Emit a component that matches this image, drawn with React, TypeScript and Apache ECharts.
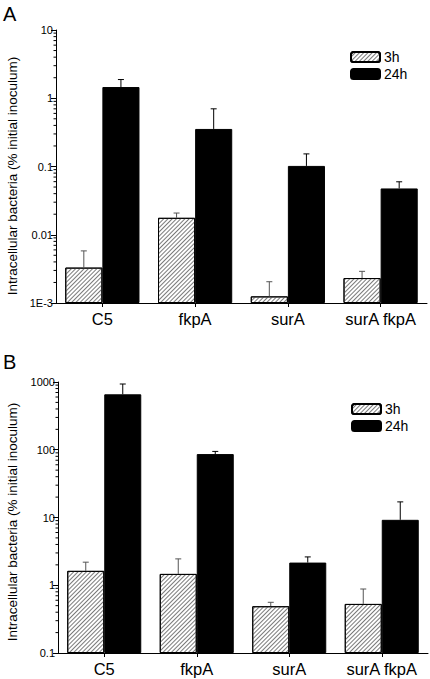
import React, { useEffect, useRef } from "react";
import * as echarts from "echarts";

const categories = ["C5", "fkpA", "surA", "surA fkpA"];
const seriesNames = ["3h", "24h"];

// Panel A
const a3h = [0.0033, 0.0177, 0.00125, 0.00232];
const a3hErr = [0.0058, 0.0208, 0.00205, 0.00291];
const a24h = [1.46, 0.355, 0.102, 0.0477];
const a24hErr = [1.88, 0.7, 0.153, 0.0597];
const aTickLabels = ["1E-3", "0.01", "0.1", "1", "10"];
const aMinExp = -3;
const aMaxExp = 1;

// Panel B
const b3h = [1.63, 1.47, 0.49, 0.53];
const b3hErr = [2.19, 2.45, 0.56, 0.88];
const b24h = [658, 86.3, 2.16, 9.24];
const b24hErr = [934, 94.5, 2.62, 17.0];
const bTickLabels = ["0.1", "1", "10", "100", "1000"];
const bMinExp = -1;
const bMaxExp = 3;

const yTitle = "Intracellular bacteria (% initial inoculum)";
const FONT = "Liberation Sans, Arial, Helvetica, sans-serif";

function minorValues(minExp: number, maxExp: number) {
  const out: number[][] = [];
  for (let e = minExp; e < maxExp; e++) {
    for (let k = 2; k <= 9; k++) out.push([0, k * Math.pow(10, e)]);
  }
  return out;
}

const hatch = {
  symbol: "rect",
  symbolSize: 1,
  color: "#7a7a7a",
  backgroundColor: "#ffffff",
  dashArrayX: [1, 0],
  dashArrayY: [1, 2],
  rotation: -Math.PI / 4,
};

function App() {
  const ref = useRef<HTMLDivElement>(null);
  useEffect(() => {
    const chart = echarts.init(ref.current!, null, { renderer: "svg" });

    const grids = [
      { left: 56, top: 30, width: 371, height: 273 },
      { left: 58, top: 382, width: 370, height: 271 },
    ];

    const yAxis = (gi: number, minExp: number, maxExp: number, labels: string[]) => ({
      type: "log",
      gridIndex: gi,
      logBase: 10,
      min: Math.pow(10, minExp),
      max: Math.pow(10, maxExp),
      startValue: Math.pow(10, minExp),
      axisLine: { show: true, lineStyle: { color: "#000", width: 1 } },
      axisTick: { show: true, inside: false, length: 5, lineStyle: { color: "#000" } },
      splitLine: { show: false },
      minorTick: { show: false },
      axisLabel: {
        color: "#000",
        fontFamily: FONT,
        fontSize: 11,
        margin: 3,
        formatter: (v: number) => labels[Math.round(Math.log10(v)) - minExp] ?? "",
      },
    });

    const xAxis = (gi: number) => ({
      type: "category",
      gridIndex: gi,
      data: categories,
      axisLine: { show: true, lineStyle: { color: "#000", width: 1 } },
      axisTick: { show: true, alignWithLabel: true, length: 4, interval: 0, lineStyle: { color: "#000" } },
      axisLabel: { color: "#000", fontFamily: FONT, fontSize: 16.5, margin: 7, interval: 0 },
    });

    const bar = (gi: number, name: string, data: number[], hatched: boolean) => ({
      type: "bar",
      name,
      xAxisIndex: gi,
      yAxisIndex: gi,
      data,
      barWidth: "40%",
      barGap: "0%",
      itemStyle: hatched
        ? { color: "#ffffff", borderColor: "#000", borderWidth: 1, decal: hatch }
        : { color: "#000", borderColor: "#000", borderWidth: 1 },
      emphasis: { disabled: true },
      z: 2,
    });

    const errSeries = (gi: number, vals: number[], errs: number[], side: number) => ({
      type: "custom",
      xAxisIndex: gi,
      yAxisIndex: gi,
      silent: true,
      z: 3,
      data: vals.map((v, i) => [i, v, errs[i]]),
      renderItem: (params: any, api: any) => {
        const band = api.size([1, 0])[0];
        const c = api.coord([api.value(0), api.value(1)]);
        const e = api.coord([api.value(0), api.value(2)]);
        const x = c[0] + side * band * 0.2;
        const color = side < 0 ? "#555" : "#000";
        return {
          type: "group",
          children: [
            { type: "line", shape: { x1: x, y1: c[1], x2: x, y2: e[1] }, style: { stroke: color, lineWidth: 1 } },
            { type: "line", shape: { x1: x - 3, y1: e[1], x2: x + 3, y2: e[1] }, style: { stroke: color, lineWidth: 1 } },
          ],
        };
      },
    });

    const minorSeries = (gi: number, minExp: number, maxExp: number) => ({
      type: "custom",
      xAxisIndex: gi,
      yAxisIndex: gi,
      silent: true,
      z: 3,
      data: minorValues(minExp, maxExp),
      renderItem: (params: any, api: any) => {
        const p = api.coord([0, api.value(1)]);
        const x0 = params.coordSys.x;
        return {
          type: "line",
          shape: { x1: x0 - 2.5, y1: p[1], x2: x0, y2: p[1] },
          style: { stroke: "#000", lineWidth: 1 },
        };
      },
    });

    const legend = (left: number, top: number) => ({
      data: seriesNames,
      orient: "vertical",
      left,
      top,
      itemWidth: 29,
      itemHeight: 10,
      itemGap: 3,
      selectedMode: false,
      textStyle: { color: "#000", fontFamily: FONT, fontSize: 14, padding: [0, 0, 0, -1] },
    });

    chart.setOption({
      animation: false,
      backgroundColor: "#ffffff",
      grid: grids,
      xAxis: [xAxis(0), xAxis(1)],
      yAxis: [yAxis(0, aMinExp, aMaxExp, aTickLabels), yAxis(1, bMinExp, bMaxExp, bTickLabels)],
      legend: [legend(345, 45), legend(346, 397)],
      series: [
        bar(0, seriesNames[0], a3h, true),
        bar(0, seriesNames[1], a24h, false),
        bar(1, seriesNames[0], b3h, true),
        bar(1, seriesNames[1], b24h, false),
        errSeries(0, a3h, a3hErr, -1),
        errSeries(0, a24h, a24hErr, 1),
        errSeries(1, b3h, b3hErr, -1),
        errSeries(1, b24h, b24hErr, 1),
        minorSeries(0, aMinExp, aMaxExp),
        minorSeries(1, bMinExp, bMaxExp),
      ],
      graphic: [
        { type: "text", left: 3, top: 4, style: { text: "A", font: `20px ${FONT}`, fill: "#000" } },
        { type: "text", left: 3, top: 352, style: { text: "B", font: `20px ${FONT}`, fill: "#000" } },
        {
          type: "text",
          x: 12,
          y: 176,
          rotation: Math.PI / 2,
          style: { text: yTitle, font: `13.5px ${FONT}`, fill: "#000", align: "center", verticalAlign: "middle" },
        },
        {
          type: "text",
          x: 12,
          y: 522,
          rotation: Math.PI / 2,
          style: { text: yTitle, font: `13.5px ${FONT}`, fill: "#000", align: "center", verticalAlign: "middle" },
        },
      ],
    });
    return () => chart.dispose();
  }, []);
  return (
    <div
      ref={ref}
      style={{ position: "fixed", left: 0, top: 0, width: 430, height: 679, background: "#fff" }}
    />
  );
}

export default App;
